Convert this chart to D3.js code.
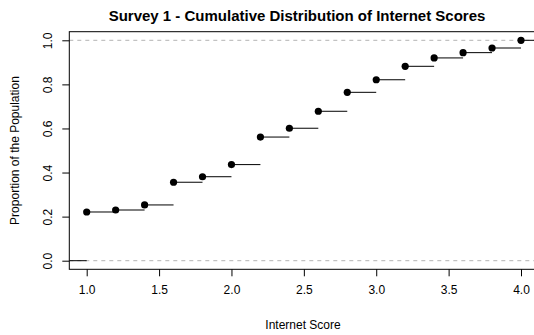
<!DOCTYPE html>
<html>
<head>
<meta charset="utf-8">
<script src="https://cdn.jsdelivr.net/npm/d3@7"></script>
<style>
  body { margin: 0; background: #fff; }
  svg { display: block; font-family: "Liberation Sans", Arial, sans-serif; }
</style>
</head>
<body>
<div id="chart"></div>
<script>
// Data (ecdf of internet scores)
const scores = [1.0, 1.2, 1.4, 1.6, 1.8, 2.0, 2.2, 2.4, 2.6, 2.8, 3.0, 3.2, 3.4, 3.6, 3.8, 4.0];
const proportions = [0.221, 0.230, 0.253, 0.356, 0.381, 0.436, 0.561, 0.601, 0.678, 0.764, 0.821, 0.882, 0.920, 0.944, 0.965, 1.0];
const xTicks = [1.0, 1.5, 2.0, 2.5, 3.0, 3.5, 4.0];
const yTicks = [0.0, 0.2, 0.4, 0.6, 0.8, 1.0];

const width = 534;
const height = 335;

// plot box (right edge runs off the picture like the original)
const box = { left: 69.3, right: 536, top: 31.7, bottom: 269.3 };

const svg = d3.select("#chart")
  .append("svg")
  .attr("width", width)
  .attr("height", height);

const x = d3.scaleLinear().domain([1, 4]).range([86.7, 521]);
const y = d3.scaleLinear().domain([0, 1]).range([260.7, 40.3]);

const xMin = x.invert(box.left);
const xMax = x.invert(box.right);

svg.append("defs").append("clipPath")
  .attr("id", "plot-clip")
  .append("rect")
  .attr("x", box.left)
  .attr("y", box.top)
  .attr("width", box.right - box.left)
  .attr("height", box.bottom - box.top);

const plot = svg.append("g").attr("clip-path", "url(#plot-clip)");

// dashed reference lines at 0 and 1
plot.selectAll("line.ref")
  .data([0, 1])
  .enter()
  .append("line")
  .attr("class", "ref")
  .attr("x1", box.left)
  .attr("x2", box.right)
  .attr("y1", (d) => y(d))
  .attr("y2", (d) => y(d))
  .attr("stroke", "#b3b3b3")
  .attr("stroke-width", 1)
  .attr("stroke-dasharray", "4,4");

// step segments
const steps = [{ x1: xMin, x2: scores[0], p: 0 }];
scores.forEach((s, i) => {
  const next = i < scores.length - 1 ? scores[i + 1] : xMax;
  steps.push({ x1: s, x2: next, p: proportions[i] });
});

plot.selectAll("line.step")
  .data(steps)
  .enter()
  .append("line")
  .attr("class", "step")
  .attr("x1", (d) => x(d.x1))
  .attr("x2", (d) => x(d.x2))
  .attr("y1", (d) => y(d.p))
  .attr("y2", (d) => y(d.p))
  .attr("stroke", "#000")
  .attr("stroke-width", 1);

// jump points
plot.selectAll("circle")
  .data(scores)
  .enter()
  .append("circle")
  .attr("cx", (d) => x(d))
  .attr("cy", (d, i) => y(proportions[i]))
  .attr("r", 3.6)
  .attr("fill", "#000");

// frame
svg.append("rect")
  .attr("x", box.left)
  .attr("y", box.top)
  .attr("width", box.right - box.left)
  .attr("height", box.bottom - box.top)
  .attr("fill", "none")
  .attr("stroke", "#000")
  .attr("stroke-width", 1);

// x axis
const xAxis = d3.axisBottom(x)
  .tickValues(xTicks)
  .tickSize(7)
  .tickPadding(9)
  .tickFormat(d3.format(".1f"));

const gx = svg.append("g")
  .attr("transform", `translate(0,${box.bottom})`)
  .call(xAxis);
gx.select(".domain").remove();
gx.selectAll("text").style("font-size", "12px").attr("fill", "#000");

// y axis
const yAxis = d3.axisLeft(y)
  .tickValues(yTicks)
  .tickSize(7)
  .tickFormat(d3.format(".1f"));

const gy = svg.append("g")
  .attr("transform", `translate(${box.left},0)`)
  .call(yAxis);
gy.select(".domain").remove();
gy.selectAll("text")
  .style("font-size", "12px")
  .attr("fill", "#000")
  .attr("x", null)
  .attr("dy", null)
  .attr("text-anchor", "middle")
  .attr("transform", "translate(-20,0) rotate(-90)")
  .attr("y", 0)
  .attr("dominant-baseline", "middle");

// titles
svg.append("text")
  .attr("x", 297)
  .attr("y", 21)
  .attr("text-anchor", "middle")
  .style("font-size", "15px")
  .style("font-weight", "bold")
  .text("Survey 1 - Cumulative Distribution of Internet Scores");

svg.append("text")
  .attr("x", 303)
  .attr("y", 329)
  .attr("text-anchor", "middle")
  .style("font-size", "12px")
  .text("Internet Score");

svg.append("text")
  .attr("transform", `translate(19,${(box.top + box.bottom) / 2}) rotate(-90)`)
  .attr("text-anchor", "middle")
  .style("font-size", "12px")
  .text("Proportion of the Population");
</script>
</body>
</html>
